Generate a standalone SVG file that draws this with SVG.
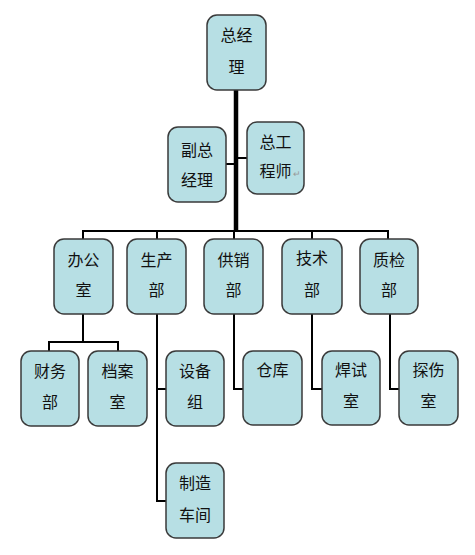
<svg xmlns="http://www.w3.org/2000/svg" width="475" height="555" viewBox="0 0 475 555">
<style>
.box{fill:#B7DFE4;stroke:#3a3a3a;stroke-width:1.5}
.t{font-family:"Noto Sans CJK SC","Liberation Sans",sans-serif;font-size:16px;fill:#111;text-anchor:middle}
.ln{fill:none;stroke:#000;stroke-width:2}
.trunk{fill:none;stroke:#000;stroke-width:4.5}
</style>
<rect width="475" height="555" fill="#fff"/>
<g id="connectors">
<path class="trunk" d="M236 90V232"/>
<path class="ln" d="M226 164H236M236 158H247M303 153V160"/>
<path class="ln" d="M83 239V231H388V239M157 231V239M234 231V239M312 231V239"/>
<path class="ln" d="M83 313V342M49 351V342H118V351"/>
<path class="ln" d="M157 313V501H166M157 389H166"/>
<path class="ln" d="M234 313V389H243"/>
<path class="ln" d="M312 313V389H322"/>
<path class="ln" d="M390 313V389H399"/>
</g>
<g id="n-zongjingli"><rect class="box" x="207" y="15" width="59" height="75" rx="10"/><text class="t" x="236.5" y="41">总经</text><text class="t" x="236.5" y="73">理</text></g>
<g id="n-fuzong"><rect class="box" x="168" y="127" width="58" height="75" rx="10"/><text class="t" x="197" y="156">副总</text><text class="t" x="197" y="186">经理</text></g>
<g id="n-zonggong"><rect class="box" x="247" y="122" width="57" height="72" rx="10"/><text class="t" x="275.5" y="148">总工</text><text class="t" x="275.5" y="177">程师</text><text x="297" y="177" font-family="Liberation Sans,sans-serif" font-size="9" fill="#999" text-anchor="middle">↵</text></g>
<g id="n-bangong"><rect class="box" x="54" y="239" width="59" height="75" rx="10"/><text class="t" x="83.5" y="266">办公</text><text class="t" x="83.5" y="296">室</text></g>
<g id="n-shengchan"><rect class="box" x="127" y="239" width="59" height="75" rx="10"/><text class="t" x="156.5" y="266">生产</text><text class="t" x="156.5" y="296">部</text></g>
<g id="n-gongxiao"><rect class="box" x="204" y="239" width="59" height="75" rx="10"/><text class="t" x="233.5" y="266">供销</text><text class="t" x="233.5" y="296">部</text></g>
<g id="n-jishu"><rect class="box" x="282" y="239" width="60" height="75" rx="10"/><text class="t" x="312" y="264">技术</text><text class="t" x="312" y="296">部</text></g>
<g id="n-zhijian"><rect class="box" x="360" y="239" width="58" height="75" rx="10"/><text class="t" x="389" y="266">质检</text><text class="t" x="389" y="296">部</text></g>
<g id="n-caiwu"><rect class="box" x="21" y="351" width="58" height="75" rx="10"/><text class="t" x="50" y="377">财务</text><text class="t" x="50" y="408">部</text></g>
<g id="n-dangan"><rect class="box" x="88" y="351" width="59" height="75" rx="10"/><text class="t" x="117.5" y="377">档案</text><text class="t" x="117.5" y="408">室</text></g>
<g id="n-shebei"><rect class="box" x="166" y="351" width="58" height="75" rx="10"/><text class="t" x="195" y="377">设备</text><text class="t" x="195" y="408">组</text></g>
<g id="n-zhizao"><rect class="box" x="166" y="463" width="58" height="75" rx="10"/><text class="t" x="195" y="489">制造</text><text class="t" x="195" y="521">车间</text></g>
<g id="n-cangku"><rect class="box" x="243" y="351" width="59" height="74" rx="10"/><text class="t" x="272.5" y="376">仓库</text></g>
<g id="n-hanshi"><rect class="box" x="322" y="351" width="58" height="74" rx="10"/><text class="t" x="351" y="376">焊试</text><text class="t" x="351" y="407">室</text></g>
<g id="n-tanshang"><rect class="box" x="399" y="351" width="59" height="74" rx="10"/><text class="t" x="428.5" y="376">探伤</text><text class="t" x="428.5" y="407">室</text></g>
</svg>
